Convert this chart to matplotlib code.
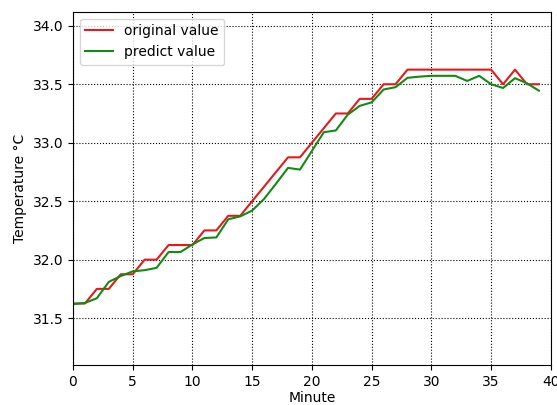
import matplotlib
matplotlib.use("Agg")
import matplotlib.pyplot as plt

minutes = list(range(40))
original = [31.625, 31.625, 31.75, 31.75, 31.875, 31.875, 32.0, 32.0, 32.125, 32.125,
            32.125, 32.25, 32.25, 32.375, 32.375, 32.5, 32.625, 32.75, 32.875, 32.875,
            33.0, 33.125, 33.25, 33.25, 33.375, 33.375, 33.5, 33.5, 33.625, 33.625,
            33.625, 33.625, 33.625, 33.625, 33.625, 33.625, 33.5, 33.625, 33.5, 33.5]
predict = [31.62, 31.63, 31.67, 31.81, 31.86, 31.90, 31.91, 31.93, 32.065, 32.065,
           32.13, 32.185, 32.19, 32.345, 32.37, 32.42, 32.52, 32.65, 32.785, 32.77,
           32.93, 33.09, 33.105, 33.24, 33.315, 33.345, 33.455, 33.475, 33.555, 33.565,
           33.572, 33.572, 33.572, 33.528, 33.572, 33.50, 33.468, 33.552, 33.508, 33.445]
xticks = [0, 5, 10, 15, 20, 25, 30, 35, 40]
yticks = [31.5, 32.0, 32.5, 33.0, 33.5, 34.0]

fig = plt.figure(figsize=(5.57, 4.05), dpi=100)
ax = fig.add_axes([0.131, 0.099, 0.858, 0.872])
ax.plot(minutes, original, color="#e31a1c", lw=1.5, label="original value")
ax.plot(minutes, predict, color="#138a13", lw=1.5, label="predict value")
ax.set_xlim(0, 40)
ax.set_ylim(31.1, 34.12)
ax.set_xticks(xticks)
ax.set_yticks(yticks)
ax.grid(True, color="black", linestyle=":", linewidth=0.8)
ax.set_xlabel("Minute", fontsize=10, labelpad=2)
ax.set_ylabel("Temperature °C", fontsize=10)
ax.tick_params(labelsize=10)
ax.legend(loc="upper left", fontsize=10)
fig.savefig("out.png", dpi=100)
